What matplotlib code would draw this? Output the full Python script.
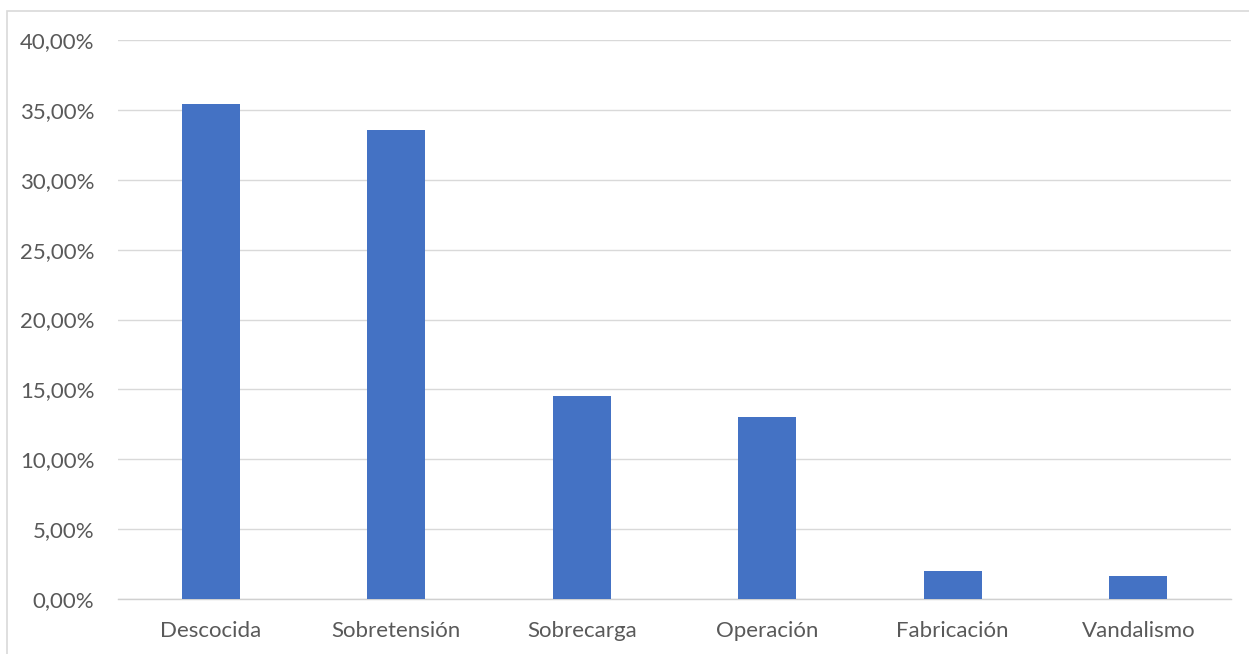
import matplotlib
matplotlib.use("Agg")
import matplotlib.pyplot as plt
from matplotlib.patches import Rectangle
from matplotlib.ticker import FuncFormatter, MultipleLocator

categories = ["Descocida", "Sobretensión", "Sobrecarga", "Operación", "Fabricación", "Vandalismo"]
values = [35.42, 33.56, 14.53, 13.02, 2.0, 1.65]

plt.rcParams['font.family'] = ['Lato', 'DejaVu Sans']
W, H = 1249, 654
fig = plt.figure(figsize=(W/100, H/100), dpi=100)
fig.patches.append(Rectangle((7/W, -0.1), 1.2, 1 - 11/H + 0.1, transform=fig.transFigure,
                             fill=False, edgecolor='#d9d9d9', linewidth=1.2))
ax = fig.add_axes([118/W, 1 - 599/H, (1231-118)/W, (599-40)/H])
x = range(len(categories))
ax.bar(x, values, width=0.31, color='#4472C4', zorder=3)
ax.set_ylim(0, 40)
ax.set_xlim(-0.5, len(categories) - 0.5)
ax.yaxis.set_major_locator(MultipleLocator(5))
ax.yaxis.set_major_formatter(FuncFormatter(lambda v, p: f"{v:.2f}".replace('.', ',') + "%"))
ax.grid(axis='y', color='#d9d9d9', linewidth=1.0, zorder=0)
ax.set_xticks(list(x))
ax.set_xticklabels(categories)
for s in ['top', 'right', 'left']:
    ax.spines[s].set_visible(False)
ax.spines['bottom'].set_color('#d0d0d0')
ax.spines['bottom'].set_linewidth(1.0)
ax.tick_params(axis='both', length=0, labelsize=16, labelcolor='#595959')
ax.tick_params(axis='y', pad=17)
ax.tick_params(axis='x', pad=16)
fig.savefig("out.png", dpi=100)
